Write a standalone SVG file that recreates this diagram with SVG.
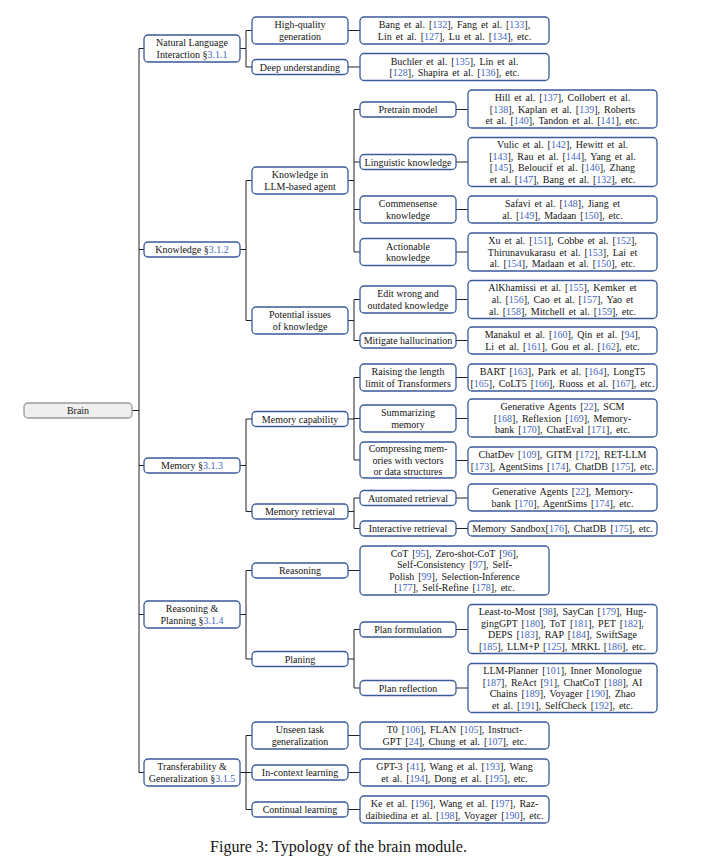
<svg xmlns="http://www.w3.org/2000/svg" width="721" height="867" viewBox="0 0 721 867">
<style>
.b{fill:#fff;stroke:#3a5a9a;stroke-width:1.3}
.br{fill:#efefef;stroke:#9a9a9a;stroke-width:1.3}
text{font-family:"Liberation Serif","Times New Roman",serif;font-size:10px;fill:#151515;text-anchor:middle}
.r{word-spacing:1.5px}
.c{fill:#3f66c0}
.cap{font-size:16px}
.e{fill:none;stroke:#222;stroke-width:1}
</style>
<g id="connectors">
<path class="e" d="M132,410.5H139M139,48.5V772.5M139,48.5H144M139,249.5H144M139,465.5H144M139,614.5H144M139,772.5H144"/>
<path class="e" d="M240,48.5H246M246,30.5V67M246,30.5H252M246,67H252"/>
<path class="e" d="M240,249.5H246M246,180.5V320.5M246,180.5H252M246,320.5H252"/>
<path class="e" d="M240,465.5H246M246,419V511.5M246,419H252M246,511.5H252"/>
<path class="e" d="M240,614.5H246M246,570.5V659M246,570.5H252M246,659H252"/>
<path class="e" d="M240,772.5H246M246,735.5V809.5M246,735.5H252M246,772.5H252M246,809.5H252"/>
<path class="e" d="M348,30.5H360M348,67H360"/>
<path class="e" d="M348,180.5H354M354,109.5V252M354,109.5H360M354,162H360M354,209.5H360M354,252H360"/>
<path class="e" d="M348,320.5H354M354,299.5V340.5M354,299.5H360M354,340.5H360"/>
<path class="e" d="M348,419H354M354,377.5V460M354,377.5H360M354,418.5H360M354,460H360"/>
<path class="e" d="M348,511.5H354M354,498V528.5M354,498H360M354,528.5H360"/>
<path class="e" d="M348,570.5H360"/>
<path class="e" d="M348,659H354M354,629.5V688M354,629.5H360M354,688H360"/>
<path class="e" d="M348,735.5H360M348,772.5H360M348,809.5H360"/>
<path class="e" d="M456,109.5H468M456,162H468M456,209.5H468M456,252H468M456,299.5H468M456,340.5H468"/>
<path class="e" d="M456,377.5H468M456,418.5H468M456,460.5H468M456,498H468M456,528.5H468"/>
<path class="e" d="M456,629.5H468M456,688H468"/>
</g>

<g id="brain"><rect class="br" x="24" y="403" width="108" height="15" rx="4"/><text x="78" y="414">Brain</text></g>

<g id="nl"><rect class="b" x="144" y="35" width="96" height="27" rx="4"/><text x="192" y="46.2">Natural Language<tspan x="192" dy="11.6">Interaction §<tspan class="c">3.1.1</tspan></tspan></text></g>
<g id="knowledge"><rect class="b" x="144" y="242" width="96" height="15" rx="4"/><text x="192" y="253">Knowledge §<tspan class="c">3.1.2</tspan></text></g>
<g id="memory"><rect class="b" x="144" y="458" width="96" height="15" rx="4"/><text x="192" y="469">Memory §<tspan class="c">3.1.3</tspan></text></g>
<g id="rp"><rect class="b" x="144" y="601" width="96" height="27" rx="4"/><text x="192" y="612.2">Reasoning &amp;<tspan x="192" dy="11.6">Planning §<tspan class="c">3.1.4</tspan></tspan></text></g>
<g id="tg"><rect class="b" x="144" y="759" width="96" height="27" rx="4"/><text x="192" y="770.2">Transferability &amp;<tspan x="192" dy="11.6">Generalization §<tspan class="c">3.1.5</tspan></tspan></text></g>

<g id="hq"><rect class="b" x="252" y="17" width="96" height="27" rx="4"/><text x="300" y="28.2">High-quality<tspan x="300" dy="11.6">generation</tspan></text></g>
<g id="deep"><rect class="b" x="252" y="59.5" width="96" height="15" rx="4"/><text x="300" y="70.5">Deep understanding</text></g>
<g id="kllm"><rect class="b" x="252" y="167" width="96" height="27" rx="4"/><text x="300" y="178.2">Knowledge in<tspan x="300" dy="11.6">LLM-based agent</tspan></text></g>
<g id="potential"><rect class="b" x="252" y="307" width="96" height="27" rx="4"/><text x="300" y="318.2">Potential issues<tspan x="300" dy="11.6">of knowledge</tspan></text></g>
<g id="memcap"><rect class="b" x="252" y="411.5" width="96" height="15" rx="4"/><text x="300" y="422.5">Memory capability</text></g>
<g id="memret"><rect class="b" x="252" y="504" width="96" height="15" rx="4"/><text x="300" y="515">Memory retrieval</text></g>
<g id="reasoning"><rect class="b" x="252" y="563" width="96" height="15" rx="4"/><text x="300" y="574">Reasoning</text></g>
<g id="planing"><rect class="b" x="252" y="651.5" width="96" height="15" rx="4"/><text x="300" y="662.5">Planing</text></g>
<g id="unseen"><rect class="b" x="252" y="722" width="96" height="27" rx="4"/><text x="300" y="733.2">Unseen task<tspan x="300" dy="11.6">generalization</tspan></text></g>
<g id="incontext"><rect class="b" x="252" y="765" width="96" height="15" rx="4"/><text x="300" y="776">In-context learning</text></g>
<g id="continual"><rect class="b" x="252" y="802" width="96" height="15" rx="4"/><text x="300" y="813">Continual learning</text></g>

<g id="bang"><rect class="b" x="360" y="17" width="189" height="27" rx="4"/><text class="r" x="454.5" y="28.2">Bang et al. [<tspan class="c">132</tspan>], Fang et al. [<tspan class="c">133</tspan>],<tspan x="454.5" dy="11.6">Lin et al. [<tspan class="c">127</tspan>], Lu et al. [<tspan class="c">134</tspan>], etc.</tspan></text></g>
<g id="buchler"><rect class="b" x="360" y="53.5" width="189" height="27" rx="4"/><text class="r" x="454.5" y="64.7">Buchler et al. [<tspan class="c">135</tspan>], Lin et al.<tspan x="454.5" dy="11.6">[<tspan class="c">128</tspan>], Shapira et al. [<tspan class="c">136</tspan>], etc.</tspan></text></g>

<g id="pretrain"><rect class="b" x="360" y="102" width="96" height="15" rx="4"/><text x="408" y="113">Pretrain model</text></g>
<g id="hill"><rect class="b" x="468" y="90" width="189" height="38" rx="4"/><text class="r" x="562.5" y="100.9">Hill et al. [<tspan class="c">137</tspan>], Collobert et al.<tspan x="562.5" dy="11.6">[<tspan class="c">138</tspan>], Kaplan et al. [<tspan class="c">139</tspan>], Roberts</tspan><tspan x="562.5" dy="11.6">et al. [<tspan class="c">140</tspan>], Tandon et al. [<tspan class="c">141</tspan>], etc.</tspan></text></g>
<g id="linguistic"><rect class="b" x="360" y="154.5" width="96" height="15" rx="4"/><text x="408" y="165.5">Linguistic knowledge</text></g>
<g id="vulic"><rect class="b" x="468" y="137.5" width="189" height="49" rx="4"/><text class="r" x="562.5" y="148.1">Vulic et al. [<tspan class="c">142</tspan>], Hewitt et al.<tspan x="562.5" dy="11.6">[<tspan class="c">143</tspan>], Rau et al. [<tspan class="c">144</tspan>], Yang et al.</tspan><tspan x="562.5" dy="11.6">[<tspan class="c">145</tspan>], Beloucif et al. [<tspan class="c">146</tspan>], Zhang</tspan><tspan x="562.5" dy="11.6">et al. [<tspan class="c">147</tspan>], Bang et al. [<tspan class="c">132</tspan>], etc.</tspan></text></g>
<g id="commonsense"><rect class="b" x="360" y="196" width="96" height="27" rx="4"/><text x="408" y="207.2">Commensense<tspan x="408" dy="11.6">knowledge</tspan></text></g>
<g id="safavi"><rect class="b" x="468" y="196" width="189" height="27" rx="4"/><text class="r" x="562.5" y="207.2">Safavi et al. [<tspan class="c">148</tspan>], Jiang et<tspan x="562.5" dy="11.6">al. [<tspan class="c">149</tspan>], Madaan [<tspan class="c">150</tspan>], etc.</tspan></text></g>
<g id="actionable"><rect class="b" x="360" y="238.5" width="96" height="27" rx="4"/><text x="408" y="249.7">Actionable<tspan x="408" dy="11.6">knowledge</tspan></text></g>
<g id="xu"><rect class="b" x="468" y="233" width="189" height="38" rx="4"/><text class="r" x="562.5" y="243.9">Xu et al. [<tspan class="c">151</tspan>], Cobbe et al. [<tspan class="c">152</tspan>],<tspan x="562.5" dy="11.6">Thirunavukarasu et al. [<tspan class="c">153</tspan>], Lai et</tspan><tspan x="562.5" dy="11.6">al. [<tspan class="c">154</tspan>], Madaan et al. [<tspan class="c">150</tspan>], etc.</tspan></text></g>
<g id="edit"><rect class="b" x="360" y="286" width="96" height="27" rx="4"/><text x="408" y="297.2">Edit wrong and<tspan x="408" dy="11.6">outdated knowledge</tspan></text></g>
<g id="alkhamissi"><rect class="b" x="468" y="280.5" width="189" height="38" rx="4"/><text class="r" x="562.5" y="291.4">AlKhamissi et al. [<tspan class="c">155</tspan>], Kemker et<tspan x="562.5" dy="11.6">al. [<tspan class="c">156</tspan>], Cao et al. [<tspan class="c">157</tspan>], Yao et</tspan><tspan x="562.5" dy="11.6">al. [<tspan class="c">158</tspan>], Mitchell et al. [<tspan class="c">159</tspan>], etc.</tspan></text></g>
<g id="mitigate"><rect class="b" x="360" y="333" width="96" height="15" rx="4"/><text x="408" y="344">Mitigate hallucination</text></g>
<g id="manakul"><rect class="b" x="468" y="327" width="189" height="27" rx="4"/><text class="r" x="562.5" y="338.2">Manakul et al. [<tspan class="c">160</tspan>], Qin et al. [<tspan class="c">94</tspan>],<tspan x="562.5" dy="11.6">Li et al. [<tspan class="c">161</tspan>], Gou et al. [<tspan class="c">162</tspan>], etc.</tspan></text></g>

<g id="raising"><rect class="b" x="360" y="364" width="96" height="27" rx="4"/><text x="408" y="375.2">Raising the length<tspan x="408" dy="11.6">limit of Transformers</tspan></text></g>
<g id="bart"><rect class="b" x="468" y="364" width="189" height="27" rx="4"/><text class="r" x="562.5" y="375.2">BART [<tspan class="c">163</tspan>], Park et al. [<tspan class="c">164</tspan>], LongT5<tspan x="562.5" dy="11.6">[<tspan class="c">165</tspan>], CoLT5 [<tspan class="c">166</tspan>], Ruoss et al. [<tspan class="c">167</tspan>], etc.</tspan></text></g>
<g id="summarizing"><rect class="b" x="360" y="405" width="96" height="27" rx="4"/><text x="408" y="416.2">Summarizing<tspan x="408" dy="11.6">memory</tspan></text></g>
<g id="genagents1"><rect class="b" x="468" y="399" width="189" height="38" rx="4"/><text class="r" x="562.5" y="409.9">Generative Agents [<tspan class="c">22</tspan>], SCM<tspan x="562.5" dy="11.6">[<tspan class="c">168</tspan>], Reflexion [<tspan class="c">169</tspan>], Memory-</tspan><tspan x="562.5" dy="11.6">bank [<tspan class="c">170</tspan>], ChatEval [<tspan class="c">171</tspan>], etc.</tspan></text></g>
<g id="compressing"><rect class="b" x="360" y="442" width="96" height="36" rx="4"/><text x="408" y="451.9">Compressing mem-<tspan x="408" dy="11.6">ories with vectors</tspan><tspan x="408" dy="11.6">or data structures</tspan></text></g>
<g id="chatdev"><rect class="b" x="468" y="447" width="189" height="27" rx="4"/><text class="r" x="562.5" y="458.2">ChatDev [<tspan class="c">109</tspan>], GITM [<tspan class="c">172</tspan>], RET-LLM<tspan x="562.5" dy="11.6">[<tspan class="c">173</tspan>], AgentSims [<tspan class="c">174</tspan>], ChatDB [<tspan class="c">175</tspan>], etc.</tspan></text></g>
<g id="automated"><rect class="b" x="360" y="490.5" width="96" height="15" rx="4"/><text x="408" y="501.5">Automated retrieval</text></g>
<g id="genagents2"><rect class="b" x="468" y="484" width="189" height="27" rx="4"/><text class="r" x="562.5" y="495.2">Generative Agents [<tspan class="c">22</tspan>], Memory-<tspan x="562.5" dy="11.6">bank [<tspan class="c">170</tspan>], AgentSims [<tspan class="c">174</tspan>], etc.</tspan></text></g>
<g id="interactive"><rect class="b" x="360" y="521" width="96" height="15" rx="4"/><text x="408" y="532">Interactive retrieval</text></g>
<g id="sandbox"><rect class="b" x="468" y="521" width="189" height="15" rx="4"/><text class="r" x="562.5" y="532">Memory Sandbox[<tspan class="c">176</tspan>], ChatDB [<tspan class="c">175</tspan>], etc.</text></g>

<g id="cot"><rect class="b" x="360" y="546" width="189" height="49" rx="4"/><text class="r" x="454.5" y="556.6">CoT [<tspan class="c">95</tspan>], Zero-shot-CoT [<tspan class="c">96</tspan>],<tspan x="454.5" dy="11.6">Self-Consistency [<tspan class="c">97</tspan>], Self-</tspan><tspan x="454.5" dy="11.6">Polish [<tspan class="c">99</tspan>], Selection-Inference</tspan><tspan x="454.5" dy="11.6">[<tspan class="c">177</tspan>], Self-Refine [<tspan class="c">178</tspan>], etc.</tspan></text></g>
<g id="planform"><rect class="b" x="360" y="622" width="96" height="15" rx="4"/><text x="408" y="633">Plan formulation</text></g>
<g id="leasttomost"><rect class="b" x="468" y="604.5" width="189" height="49" rx="4"/><text class="r" x="562.5" y="615.1">Least-to-Most [<tspan class="c">98</tspan>], SayCan [<tspan class="c">179</tspan>], Hug-<tspan x="562.5" dy="11.6">gingGPT [<tspan class="c">180</tspan>], ToT [<tspan class="c">181</tspan>], PET [<tspan class="c">182</tspan>],</tspan><tspan x="562.5" dy="11.6">DEPS [<tspan class="c">183</tspan>], RAP [<tspan class="c">184</tspan>], SwiftSage</tspan><tspan x="562.5" dy="11.6">[<tspan class="c">185</tspan>], LLM+P [<tspan class="c">125</tspan>], MRKL [<tspan class="c">186</tspan>], etc.</tspan></text></g>
<g id="planrefl"><rect class="b" x="360" y="680.5" width="96" height="15" rx="4"/><text x="408" y="691.5">Plan reflection</text></g>
<g id="llmplanner"><rect class="b" x="468" y="663.5" width="189" height="49" rx="4"/><text class="r" x="562.5" y="674.1">LLM-Planner [<tspan class="c">101</tspan>], Inner Monologue<tspan x="562.5" dy="11.6">[<tspan class="c">187</tspan>], ReAct [<tspan class="c">91</tspan>], ChatCoT [<tspan class="c">188</tspan>], AI</tspan><tspan x="562.5" dy="11.6">Chains [<tspan class="c">189</tspan>], Voyager [<tspan class="c">190</tspan>], Zhao</tspan><tspan x="562.5" dy="11.6">et al. [<tspan class="c">191</tspan>], SelfCheck [<tspan class="c">192</tspan>], etc.</tspan></text></g>

<g id="t0"><rect class="b" x="360" y="722" width="189" height="27" rx="4"/><text class="r" x="454.5" y="733.2">T0 [<tspan class="c">106</tspan>], FLAN [<tspan class="c">105</tspan>], Instruct-<tspan x="454.5" dy="11.6">GPT [<tspan class="c">24</tspan>], Chung et al. [<tspan class="c">107</tspan>], etc.</tspan></text></g>
<g id="gpt3"><rect class="b" x="360" y="759" width="189" height="27" rx="4"/><text class="r" x="454.5" y="770.2">GPT-3 [<tspan class="c">41</tspan>], Wang et al. [<tspan class="c">193</tspan>], Wang<tspan x="454.5" dy="11.6">et al. [<tspan class="c">194</tspan>], Dong et al. [<tspan class="c">195</tspan>], etc.</tspan></text></g>
<g id="ke"><rect class="b" x="360" y="796" width="189" height="27" rx="4"/><text class="r" x="454.5" y="807.2">Ke et al. [<tspan class="c">196</tspan>], Wang et al. [<tspan class="c">197</tspan>], Raz-<tspan x="454.5" dy="11.6">daibiedina et al. [<tspan class="c">198</tspan>], Voyager [<tspan class="c">190</tspan>], etc.</tspan></text></g>

<text class="cap" x="338.5" y="852">Figure 3: Typology of the brain module.</text>
</svg>
